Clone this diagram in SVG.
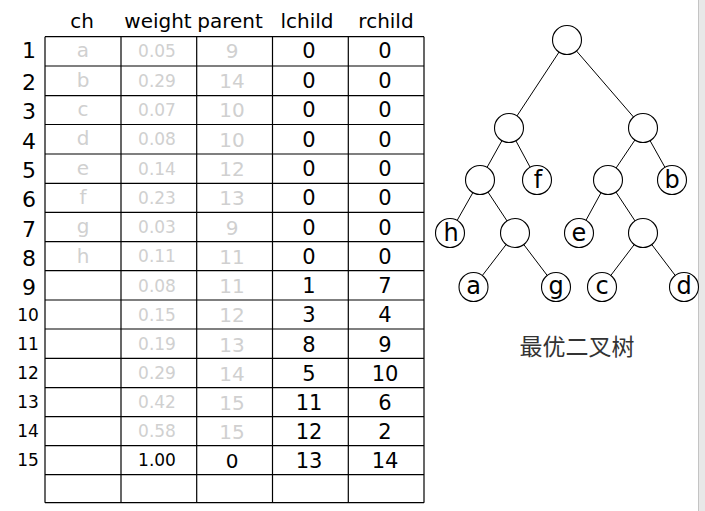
<svg xmlns="http://www.w3.org/2000/svg" width="705" height="511" viewBox="0 0 705 511">
<style>
text{font-family:"DejaVu Sans","Liberation Sans",sans-serif;text-anchor:middle;fill:#000}
.hd{font-size:20px}
.rn{font-size:22px}
.rn2{font-size:17px}
.g{fill:#d0d0d0}
.w{font-size:17px}
.c{font-size:20px}
.k{font-size:21px}
.grid line{stroke:#000;stroke-width:1.2}
.node circle{fill:#fff;stroke:#000;stroke-width:1.1}
.node text{font-size:24px}
#connectors line{stroke:#000;stroke-width:1}
.cap{font-family:"Noto Sans CJK SC","DejaVu Sans",sans-serif;font-size:23px;fill:#333}
</style>
<rect width="705" height="511" fill="#fff"/>
<rect x="698.5" y="0" width="6.5" height="511" fill="#e8e8e8"/>
<line x1="698.5" y1="0" x2="698.5" y2="511" stroke="#c4c4c4" stroke-width="1"/>

<g id="table">
<g class="hd">
<text x="82" y="28">ch</text>
<text x="158" y="28">weight</text>
<text x="230" y="28">parent</text>
<text x="307" y="28">lchild</text>
<text x="386" y="28">rchild</text>
</g>
<g class="grid">
<line x1="45" y1="36.7" x2="424" y2="36.7"/>
<line x1="45" y1="66" x2="424" y2="66"/>
<line x1="45" y1="95.7" x2="424" y2="95.7"/>
<line x1="45" y1="124.5" x2="424" y2="124.5"/>
<line x1="45" y1="154" x2="424" y2="154"/>
<line x1="45" y1="183.3" x2="424" y2="183.3"/>
<line x1="45" y1="212.3" x2="424" y2="212.3"/>
<line x1="45" y1="241.7" x2="424" y2="241.7"/>
<line x1="45" y1="270.7" x2="424" y2="270.7"/>
<line x1="45" y1="300" x2="424" y2="300"/>
<line x1="45" y1="329" x2="424" y2="329"/>
<line x1="45" y1="358.3" x2="424" y2="358.3"/>
<line x1="45" y1="387.7" x2="424" y2="387.7"/>
<line x1="45" y1="416.7" x2="424" y2="416.7"/>
<line x1="45" y1="445.7" x2="424" y2="445.7"/>
<line x1="45" y1="474.7" x2="424" y2="474.7"/>
<line x1="45" y1="502.7" x2="424" y2="502.7"/>
<line x1="45" y1="36.7" x2="45" y2="502.7"/>
<line x1="121" y1="36.7" x2="121" y2="502.7"/>
<line x1="196.7" y1="36.7" x2="196.7" y2="502.7"/>
<line x1="272.5" y1="36.7" x2="272.5" y2="502.7"/>
<line x1="348.3" y1="36.7" x2="348.3" y2="502.7"/>
<line x1="424" y1="36.7" x2="424" y2="502.7"/>
</g>
<g id="rownums">
<text class="rn" x="29" y="57.5">1</text>
<text class="rn" x="29" y="90">2</text>
<text class="rn" x="29" y="119">3</text>
<text class="rn" x="29" y="148.5">4</text>
<text class="rn" x="29" y="178">5</text>
<text class="rn" x="29" y="207">6</text>
<text class="rn" x="29" y="236.5">7</text>
<text class="rn" x="29" y="265.5">8</text>
<text class="rn" x="29" y="295">9</text>
<text class="rn2" x="28" y="321">10</text>
<text class="rn2" x="28" y="350">11</text>
<text class="rn2" x="28" y="379">12</text>
<text class="rn2" x="28" y="408">13</text>
<text class="rn2" x="28" y="437">14</text>
<text class="rn2" x="28" y="466">15</text>
</g>
<g id="col-ch" class="c g">
<text class="g" x="83" y="57">a</text>
<text class="g" x="83" y="87">b</text>
<text class="g" x="83" y="116">c</text>
<text class="g" x="83" y="145">d</text>
<text class="g" x="83" y="174.5">e</text>
<text class="g" x="83" y="204">f</text>
<text class="g" x="83" y="233">g</text>
<text class="g" x="83" y="262.5">h</text>
</g>
<g id="col-weight" class="w">
<text class="g" x="157" y="57">0.05</text>
<text class="g" x="157" y="86.5">0.29</text>
<text class="g" x="157" y="116">0.07</text>
<text class="g" x="157" y="145">0.08</text>
<text class="g" x="157" y="174.5">0.14</text>
<text class="g" x="157" y="203.5">0.23</text>
<text class="g" x="157" y="233">0.03</text>
<text class="g" x="157" y="262">0.11</text>
<text class="g" x="157" y="291.5">0.08</text>
<text class="g" x="157" y="320.5">0.15</text>
<text class="g" x="157" y="350">0.19</text>
<text class="g" x="157" y="379">0.29</text>
<text class="g" x="157" y="408">0.42</text>
<text class="g" x="157" y="437">0.58</text>
<text x="157" y="466">1.00</text>
</g>
<g id="col-parent" class="c">
<text class="g" x="232" y="58">9</text>
<text class="g" x="232" y="88">14</text>
<text class="g" x="232" y="117">10</text>
<text class="g" x="232" y="146.5">10</text>
<text class="g" x="232" y="176">12</text>
<text class="g" x="232" y="205">13</text>
<text class="g" x="232" y="234.5">9</text>
<text class="g" x="232" y="263.5">11</text>
<text class="g" x="232" y="293">11</text>
<text class="g" x="232" y="322">12</text>
<text class="g" x="232" y="351.5">13</text>
<text class="g" x="232" y="380.5">14</text>
<text class="g" x="232" y="409.5">15</text>
<text class="g" x="232" y="438.5">15</text>
<text x="232" y="467.5">0</text>
</g>
<g id="col-lchild" class="k">
<text x="309" y="58">0</text>
<text x="309" y="88">0</text>
<text x="309" y="117">0</text>
<text x="309" y="146.5">0</text>
<text x="309" y="176">0</text>
<text x="309" y="205">0</text>
<text x="309" y="234.5">0</text>
<text x="309" y="263.5">0</text>
<text x="309" y="293">1</text>
<text x="309" y="322">3</text>
<text x="309" y="351.5">8</text>
<text x="309" y="380.5">5</text>
<text x="309" y="409.5">11</text>
<text x="309" y="438.5">12</text>
<text x="309" y="467.5">13</text>
</g>
<g id="col-rchild" class="k">
<text x="385" y="58">0</text>
<text x="385" y="88">0</text>
<text x="385" y="117">0</text>
<text x="385" y="146.5">0</text>
<text x="385" y="176">0</text>
<text x="385" y="205">0</text>
<text x="385" y="234.5">0</text>
<text x="385" y="263.5">0</text>
<text x="385" y="293">7</text>
<text x="385" y="322">4</text>
<text x="385" y="351.5">9</text>
<text x="385" y="380.5">10</text>
<text x="385" y="409.5">6</text>
<text x="385" y="438.5">2</text>
<text x="385" y="467.5">14</text>
</g>
</g>

<g id="connectors">
<line x1="567" y1="40" x2="509" y2="128"/>
<line x1="567" y1="40" x2="643" y2="128"/>
<line x1="509" y1="128" x2="480" y2="180"/>
<line x1="509" y1="128" x2="537" y2="180"/>
<line x1="643" y1="128" x2="608" y2="180"/>
<line x1="643" y1="128" x2="672" y2="180"/>
<line x1="480" y1="180" x2="450" y2="233"/>
<line x1="480" y1="180" x2="515" y2="233"/>
<line x1="608" y1="180" x2="579" y2="233"/>
<line x1="608" y1="180" x2="643" y2="233"/>
<line x1="515" y1="233" x2="473.5" y2="287"/>
<line x1="515" y1="233" x2="556" y2="287"/>
<line x1="643" y1="233" x2="602" y2="287"/>
<line x1="643" y1="233" x2="684" y2="287"/>
</g>

<g id="n15" class="node"><circle cx="567" cy="40" r="14.5"/></g>
<g id="n14" class="node"><circle cx="509" cy="128" r="14.5"/></g>
<g id="n13" class="node"><circle cx="643" cy="128" r="14.5"/></g>
<g id="n12" class="node"><circle cx="480" cy="180" r="14.5"/></g>
<g id="n6" class="node"><circle cx="537" cy="180" r="14.5"/><text x="538" y="188">f</text></g>
<g id="n11" class="node"><circle cx="608" cy="180" r="14.5"/></g>
<g id="n2" class="node"><circle cx="672" cy="180" r="14.5"/><text x="672" y="188">b</text></g>
<g id="n8" class="node"><circle cx="450" cy="233" r="14.5"/><text x="451" y="241">h</text></g>
<g id="n9" class="node"><circle cx="515" cy="233" r="14.5"/></g>
<g id="n5" class="node"><circle cx="579" cy="233" r="14.5"/><text x="579" y="240.5">e</text></g>
<g id="n10" class="node"><circle cx="643" cy="233" r="14.5"/></g>
<g id="n1" class="node"><circle cx="473.5" cy="287" r="14.5"/><text x="473.5" y="294">a</text></g>
<g id="n7" class="node"><circle cx="556" cy="287" r="14.5"/><text x="556" y="294">g</text></g>
<g id="n3" class="node"><circle cx="602" cy="287" r="14.5"/><text x="602" y="294">c</text></g>
<g id="n4" class="node"><circle cx="684" cy="287" r="14.5"/><text x="684" y="294">d</text></g>

<text class="cap" x="577" y="355">最优二叉树</text>
</svg>
